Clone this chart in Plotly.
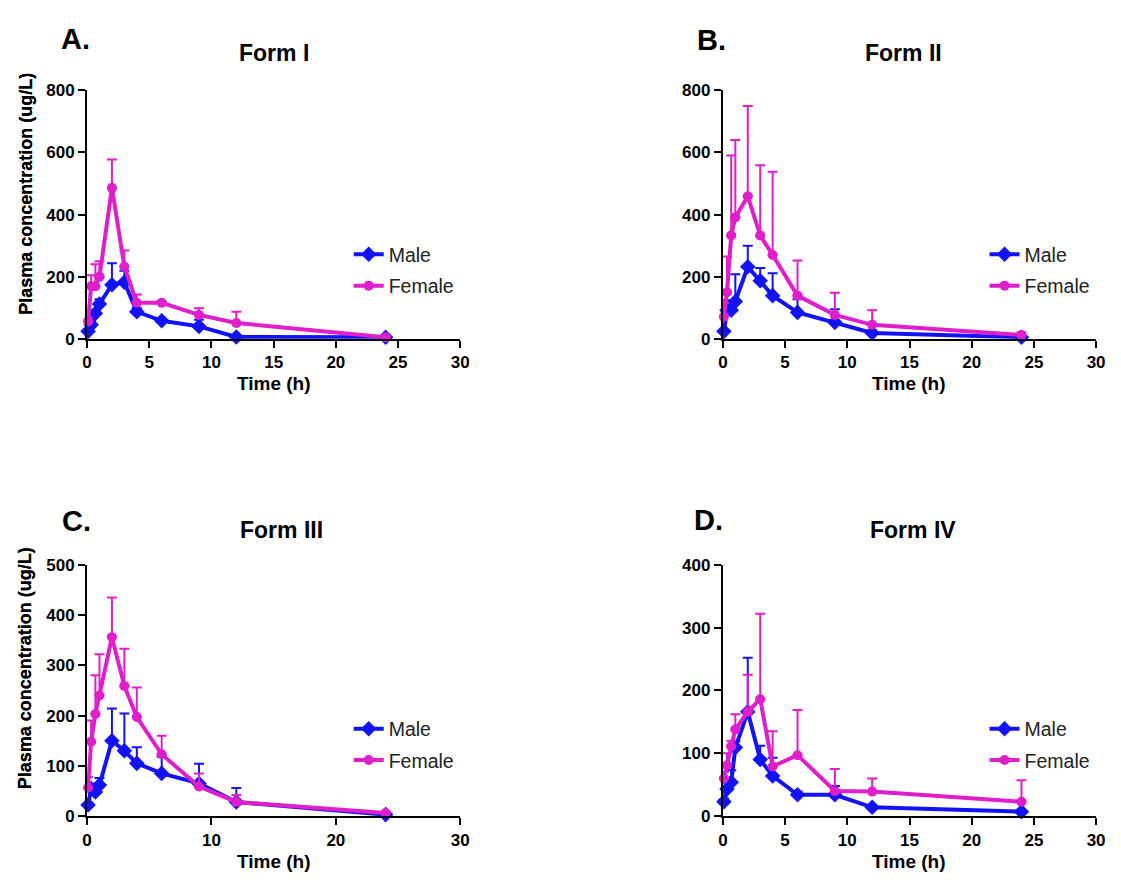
import plotly.graph_objects as go

# ---------------- data ----------------
times = [0.083, 0.33, 0.67, 1, 2, 3, 4, 6, 9, 12, 24]

male_A = [24, 45, 82, 112, 174, 182, 87, 58, 40, 6, 5]
male_A_sd = [5, 10, 10, 15, 69, 37, 12, 5, 21, 3, 2]
female_A = [56, 169, 169, 200, 486, 233, 116, 116, 77, 51, 5]
female_A_sd = [10, 36, 71, 50, 91, 51, 27, 5, 21, 36, 2]

male_B = [24, 92, 92, 120, 232, 187, 139, 85, 53, 19, 5]
male_B_sd = [5, 32, 20, 88, 68, 41, 72, 42, 42, 5, 3]
female_B = [71, 150, 333, 391, 459, 333, 270, 139, 77, 45, 12]
female_B_sd = [44, 115, 257, 249, 291, 226, 268, 113, 71, 47, 8]

male_C = [22, 55, 48, 62, 150, 130, 105, 85, 65, 28, 3]
male_C_sd = [5, 7, 8, 14, 64, 74, 32, 33, 39, 28, 2]
female_C = [57, 148, 203, 240, 356, 259, 197, 123, 59, 28, 6]
female_C_sd = [21, 42, 77, 82, 79, 74, 59, 37, 26, 14, 3]

male_D = [23, 43, 54, 109, 166, 90, 64, 34, 34, 14, 7]
male_D_sd = [5, 10, 19, 10, 86, 22, 29, 5, 14, 3, 2]
female_D = [60, 81, 111, 138, 166, 186, 79, 97, 40, 39, 23]
female_D_sd = [10, 19, 9, 24, 59, 136, 56, 72, 35, 21, 34]

panel_letters = ["A.", "B.", "C.", "D."]
panel_titles = ["Form I", "Form II", "Form III", "Form IV"]
y_max = [800, 800, 500, 400]
y_dtick = [200, 200, 100, 100]
x_dtick = [5, 5, 10, 5]
series_names = ["Male", "Female"]

# ---------------- layout helpers ----------------
PAGE_W, PAGE_H = 1121, 884
OFF = 8                      # default body margin of the html page
W, H = PAGE_W - 2 * OFF, PAGE_H - 2 * OFF
BLUE = "#1212F8"
MAG = "#E01ECB"
FONT = "Liberation Sans, Arial, sans-serif"

def px_x(p):
    return (p - OFF) / W

def px_y(p):
    return 1 - (p - OFF) / H

# plot rectangles in screen pixels (left, right, top, bottom)
rects = [(83, 461, 83, 337), (727, 1105, 83, 337),
         (83, 461, 568, 825), (727, 1105, 568, 825)]
letter_pos = [(71, 30), (715, 32), (72, 523), (712, 522)]
title_pos = [(272, 45), (910, 45), (280, 532), (920, 532)]

data = [
    (male_A, male_A_sd, female_A, female_A_sd),
    (male_B, male_B_sd, female_B, female_B_sd),
    (male_C, male_C_sd, female_C, female_C_sd),
    (male_D, male_D_sd, female_D, female_D_sd),
]

fig = go.Figure()
layout = dict(
    width=W, height=H, margin=dict(l=0, r=0, t=0, b=0),
    paper_bgcolor="white", plot_bgcolor="white",
    font=dict(family=FONT, color="black"),
    annotations=[],
)

for i, (m, msd, f, fsd) in enumerate(data):
    n = "" if i == 0 else str(i + 1)
    xa, ya = "x" + n, "y" + n
    leg = "legend" if i == 0 else "legend" + str(i + 1)
    l, r, t, b = rects[i]
    for k, (name, vals, sd, col, sym) in enumerate([
        (series_names[0], m, msd, BLUE, "diamond"),
        (series_names[1], f, fsd, MAG, "circle"),
    ]):
        fig.add_trace(go.Scatter(
            x=times, y=vals, name=name, mode="lines+markers",
            xaxis=xa, yaxis=ya, legend=leg, legendgroup=f"g{i}{k}",
            cliponaxis=False,
            line=dict(color=col, width=4),
            marker=dict(color=col, symbol=sym, size=12 if sym == "diamond" else 10),
            error_y=dict(type="data", symmetric=False, array=sd,
                         arrayminus=[0] * len(sd), color=col,
                         thickness=2, width=5),
        ))
    axcommon = dict(showline=True, linecolor="black", linewidth=2,
                    ticks="outside", ticklen=7, tickwidth=2, tickcolor="black",
                    showgrid=False, zeroline=False,
                    tickfont=dict(family=FONT, size=17, color="black", weight="bold"))
    layout["xaxis" + n] = dict(axcommon, domain=[px_x(l), px_x(r)], range=[0, 30],
                               dtick=x_dtick[i], tick0=0, anchor=ya)
    layout["yaxis" + n] = dict(axcommon, domain=[px_y(b), px_y(t)], range=[0, y_max[i]],
                               dtick=y_dtick[i], tick0=0, anchor=xa)
    cx = (l + r) / 2
    # panel letter
    layout["annotations"].append(dict(
        text="<b>" + panel_letters[i] + "</b>", xref="paper", yref="paper",
        x=px_x(letter_pos[i][0]), y=px_y(letter_pos[i][1]), xanchor="center", yanchor="middle",
        showarrow=False, font=dict(family=FONT, size=29, color="black")))
    # title
    layout["annotations"].append(dict(
        text="<b>" + panel_titles[i] + "</b>", xref="paper", yref="paper",
        x=px_x(title_pos[i][0]), y=px_y(title_pos[i][1]), xanchor="center", yanchor="middle",
        showarrow=False, font=dict(family=FONT, size=23, color="black")))
    # x title
    layout["annotations"].append(dict(
        text="<b>Time (h)</b>", xref="paper", yref="paper",
        x=px_x(cx), y=px_y(b + 46), xanchor="center", yanchor="middle",
        showarrow=False, font=dict(family=FONT, size=19, color="black")))
    # y title
    layout["annotations"].append(dict(
        text="<b>Plasma concentration (ug/L)</b>", xref="paper", yref="paper",
        x=px_x(21), y=px_y(t + 106), xanchor="center", yanchor="middle",
        textangle=-90, showarrow=False, font=dict(family=FONT, size=18, color="black")))
    # legend
    layout[leg] = dict(x=px_x(l + 265), y=px_y(t + 148), xanchor="left", yanchor="top",
                       bgcolor="rgba(0,0,0,0)", borderwidth=0,
                       font=dict(family=FONT, size=19.5, color="#222"),
                       tracegroupgap=3, itemwidth=30)

fig.update_layout(**layout)
fig.write_html("out.html")
